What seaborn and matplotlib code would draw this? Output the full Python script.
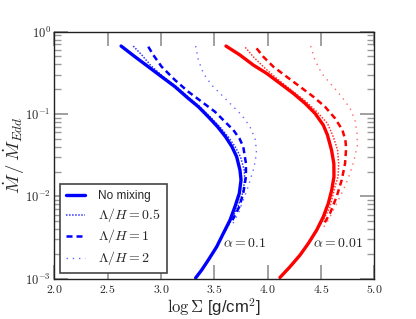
import numpy as np
import pandas as pd
import matplotlib
matplotlib.use("Agg")
import matplotlib.pyplot as plt
from matplotlib.ticker import FixedLocator, FuncFormatter, LogLocator, NullFormatter
import seaborn as sns

# log10(Mdot/Mdot_Edd) (y) and log Sigma (x)
blue_none_y = [-0.174, -0.304, -0.425, -0.547, -0.668, -0.81, -0.911, -1.033, -1.154, -1.276, -1.397,
               -1.519, -1.68, -1.80, -1.963, -2.126, -2.288, -2.45, -2.612, -2.774, -2.895, -2.99]
blue_none_x = [2.626, 2.756, 2.881, 3.006, 3.131, 3.256, 3.35, 3.443, 3.53, 3.605, 3.665,
               3.709, 3.74, 3.75, 3.734, 3.693, 3.647, 3.584, 3.522, 3.443, 3.381, 3.325]

blue_05_y = [-0.174, -0.283, -0.405, -0.547, -0.668, -0.81, -0.911, -1.033, -1.154, -1.276, -1.397,
             -1.519, -1.68, -1.80, -1.963, -2.126, -2.288, -2.45]
blue_05_x = [2.74, 2.82, 2.9, 3.02, 3.145, 3.27, 3.365, 3.46, 3.55, 3.63, 3.695,
             3.745, 3.78, 3.785, 3.765, 3.72, 3.66, 3.59]

blue_1_y = [-0.182, -0.283, -0.425, -0.587, -0.729, -0.85, -0.972, -1.094, -1.194, -1.296, -1.397,
            -1.60, -1.76, -1.963, -2.126, -2.288]
blue_1_x = [2.881, 2.928, 3.006, 3.131, 3.256, 3.381, 3.506, 3.60, 3.678, 3.735, 3.771,
            3.796, 3.796, 3.771, 3.734, 3.67]

blue_2_y = [-0.174, -0.344, -0.506, -0.648, -0.769, -0.891, -1.012, -1.154, -1.296, -1.44, -1.56,
            -1.68, -1.88, -2.045, -2.207, -2.35]
blue_2_x = [3.325, 3.35, 3.397, 3.475, 3.569, 3.662, 3.756, 3.834, 3.881, 3.895, 3.885,
            3.865, 3.818, 3.771, 3.725, 3.665]

red_none_y = [-0.174, -0.283, -0.405, -0.506, -0.627, -0.749, -0.87, -0.991, -1.134, -1.255, -1.437,
              -1.60, -1.762, -1.923, -2.085, -2.248, -2.41, -2.571, -2.713, -2.855, -2.985]
red_none_x = [3.609, 3.74, 3.865, 3.99, 4.115, 4.24, 4.35, 4.443, 4.521, 4.56, 4.598,
              4.62, 4.621, 4.60, 4.568, 4.521, 4.459, 4.381, 4.303, 4.209, 4.115]

red_05_y = [-0.19, -0.304, -0.425, -0.567, -0.708, -0.85, -0.972, -1.113, -1.276, -1.437, -1.60,
            -1.76, -1.88, -2.126, -2.288, -2.41]
red_05_x = [3.79, 3.865, 3.959, 4.084, 4.22, 4.36, 4.46, 4.56, 4.615, 4.655, 4.665,
            4.66, 4.631, 4.584, 4.521, 4.46]

red_1_y = [-0.202, -0.304, -0.425, -0.547, -0.668, -0.79, -0.911, -1.052, -1.194, -1.316, -1.417,
           -1.60, -1.80, -2.0, -2.207, -2.35]
red_1_x = [3.896, 3.959, 4.053, 4.178, 4.303, 4.428, 4.537, 4.631, 4.70, 4.728, 4.735,
           4.725, 4.694, 4.647, 4.584, 4.52]

red_2_y = [-0.174, -0.344, -0.506, -0.648, -0.79, -0.931, -1.073, -1.235, -1.38, -1.56, -1.72,
           -1.923, -2.126, -2.288, -2.42]
red_2_x = [4.403, 4.443, 4.506, 4.60, 4.694, 4.772, 4.818, 4.837, 4.84, 4.81, 4.772,
           4.709, 4.631, 4.568, 4.5]

sns.set_style("ticks")
plt.rcParams["mathtext.fontset"] = "cm"
plt.rcParams["font.family"] = ["Liberation Sans", "DejaVu Sans"]

fig = plt.figure(figsize=(4.16, 3.19), dpi=100)
ax = fig.add_axes([0.1305, 0.1263, 0.7695, 0.7743])

styles = {
    "none": dict(lw=2.4, ls="-", alpha=1.0, label="No mixing"),
    "05": dict(lw=1.1, ls=(0, (1, 1)), alpha=0.8, label=r"$\Lambda/H = 0.5$"),
    "1": dict(lw=1.8, ls=(0, (2.4, 1.6)), alpha=1.0, label=r"$\Lambda/H = 1$"),
    "2": dict(lw=1.0, ls=(0, (1, 3.5)), alpha=0.6, label=r"$\Lambda/H = 2$"),
}

curves = [
    ("blue", "none", blue_none_x, blue_none_y),
    ("blue", "05", blue_05_x, blue_05_y),
    ("blue", "1", blue_1_x, blue_1_y),
    ("blue", "2", blue_2_x, blue_2_y),
    ("red", "none", red_none_x, red_none_y),
    ("red", "05", red_05_x, red_05_y),
    ("red", "1", red_1_x, red_1_y),
    ("red", "2", red_2_x, red_2_y),
]

for color, key, xs, ys in curves:
    df = pd.DataFrame({"logS": xs, "mdot": 10 ** np.array(ys)})
    st = styles[key]
    sns.lineplot(data=df, x="logS", y="mdot", ax=ax, sort=False, estimator=None,
                 color=color, lw=st["lw"], linestyle=st["ls"], alpha=st["alpha"],
                 label=st["label"] if color == "blue" else None)

ax.set_yscale("log")
ax.set_xlim(2.0, 5.0)
ax.set_ylim(1e-3, 1.0)

ax.xaxis.set_major_locator(FixedLocator([2.0, 2.5, 3.0, 3.5, 4.0, 4.5, 5.0]))
ax.xaxis.set_major_formatter(FuncFormatter(lambda v, p: r"$%.1f$" % v))
ax.yaxis.set_major_locator(LogLocator(base=10, numticks=10))
ax.yaxis.set_major_formatter(FuncFormatter(lambda v, p: r"$10^{%d}$" % int(round(np.log10(v)))))
ax.yaxis.set_minor_locator(LogLocator(base=10, subs=np.arange(2, 10), numticks=20))
ax.yaxis.set_minor_formatter(NullFormatter())

ax.tick_params(axis="both", which="major", direction="in", length=10, width=1.3,
               color="#999999", labelsize=9, top=True, right=True, pad=2.5)
ax.tick_params(axis="x", which="major", pad=4, labelsize=8.5)
ax.tick_params(axis="y", which="minor", direction="in", length=5, width=1.0,
               color="#999999", left=True, right=True)
for sp in ax.spines.values():
    sp.set_color("#222222")
    sp.set_linewidth(1.0)

ax.set_xlabel(r"$\log\Sigma$ [g/cm$^\mathsf{2}$]", fontsize=12, labelpad=0)
ax.set_ylabel(r"$\dot{M}\,/\,\dot{M}_{Edd}$", fontsize=13.5)
ax.yaxis.set_label_coords(-0.085, 0.5)

ax.text(3.78, 10 ** -2.57, r"$\alpha = 0.1$", fontsize=10, ha="center", va="center")
ax.text(4.66, 10 ** -2.57, r"$\alpha = 0.01$", fontsize=10, ha="center", va="center")

leg = ax.legend(loc="lower left", fontsize=8.5, frameon=True, fancybox=False,
                framealpha=1, edgecolor="#444444", handlelength=1.6, handletextpad=1.1,
                labelspacing=0.3, borderaxespad=0.5, borderpad=0.5)
leg.get_frame().set_linewidth(1.2)
for t in leg.get_texts()[1:]:
    t.set_fontsize(10)

fig.savefig("out.png", dpi=100)
